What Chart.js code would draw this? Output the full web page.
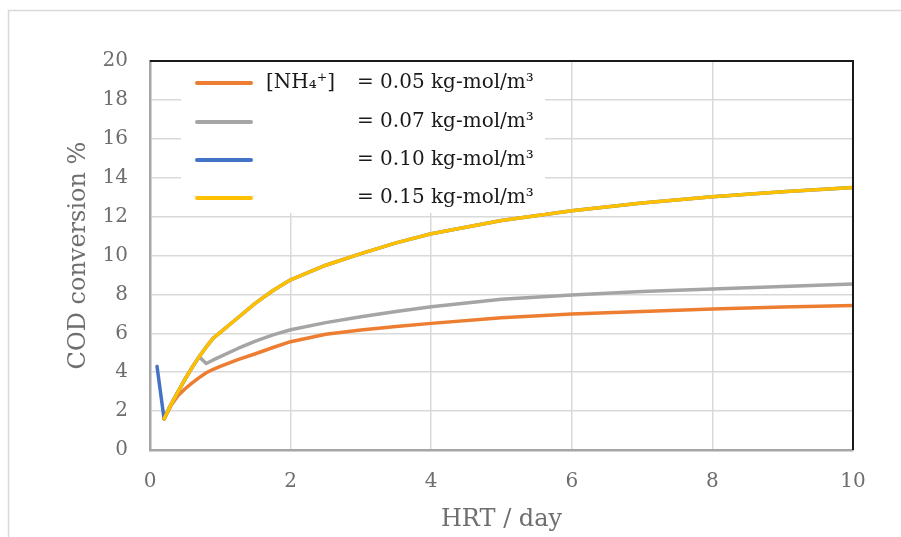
<!DOCTYPE html>
<html>
<head>
<meta charset="utf-8">
<title>COD conversion vs HRT</title>
<script src="https://cdn.jsdelivr.net/npm/chart.js@4.4.1/dist/chart.umd.min.js"></script>
<style>
  html, body { margin: 0; padding: 0; background: #fff; }
  #wrap { width: 901px; height: 537px; }
</style>
</head>
<body>
<div id="wrap"><canvas id="chart"></canvas></div>
<script>
/* ── Data ────────────────────────────────────── */
const hrt = [0.2, 0.3, 0.4, 0.5, 0.6, 0.7, 0.8, 0.9, 1.0, 1.25, 1.5, 1.75, 2, 2.5, 3, 3.5, 4, 5, 6, 7, 8, 9, 10];
const hrtBlue = [0.1, 0.2, 0.3, 0.4, 0.5, 0.6, 0.7, 0.8, 0.9, 1.0, 1.25, 1.5, 1.75, 2, 2.5, 3, 3.5, 4, 5, 6, 7, 8, 9, 10];

const cod005 = [1.6, 2.3, 2.8, 3.15, 3.45, 3.72, 3.97, 4.15, 4.3, 4.65, 4.95, 5.27, 5.57, 5.95, 6.17, 6.35, 6.51, 6.8, 6.99, 7.12, 7.25, 7.35, 7.43];
const cod007 = [1.6, 2.35, 3.0, 3.65, 4.25, 4.8, 4.45, 4.63, 4.8, 5.22, 5.6, 5.92, 6.18, 6.55, 6.85, 7.12, 7.37, 7.75, 7.97, 8.15, 8.28, 8.4, 8.53];
const cod010 = [4.3, 1.6, 2.35, 3.0, 3.65, 4.25, 4.8, 5.3, 5.75, 6.05, 6.8, 7.55, 8.2, 8.75, 9.5, 10.1, 10.65, 11.12, 11.8, 12.3, 12.7, 13.02, 13.28, 13.5];
const cod015 = [1.6, 2.35, 3.0, 3.65, 4.25, 4.8, 5.3, 5.75, 6.05, 6.8, 7.55, 8.2, 8.75, 9.5, 10.1, 10.65, 11.12, 11.8, 12.3, 12.7, 13.02, 13.28, 13.5];

const speciesLabel = '[NH\u2084\u207A]';
const concLabels = ['= 0.05 kg-mol/m\u00B3', '= 0.07 kg-mol/m\u00B3', '= 0.10 kg-mol/m\u00B3', '= 0.15 kg-mol/m\u00B3'];
const seriesColors = ['#ED7D31', '#A5A5A5', '#4472C4', '#FFC000'];

const xTicks = [0, 2, 4, 6, 8, 10];
const yTicks = [0, 2, 4, 6, 8, 10, 12, 14, 16, 18, 20];

/* ── Helpers ───────────────────────── */
const pts = (xs, ys) => xs.map((x, i) => ({ x, y: ys[i] }));
const serif = "'DejaVu Serif', serif";
const tickColor = '#6e6e6e';
const gridColor = '#d9d9d9';

function series(i, xs, ys, order) {
  return {
    label: concLabels[i],
    data: pts(xs, ys),
    borderColor: seriesColors[i],
    backgroundColor: seriesColors[i],
    borderWidth: 3.5,
    pointRadius: 0,
    tension: 0,
    borderJoinStyle: 'round',
    borderCapStyle: 'round',
    order
  };
}

/* ── Frame + legend plugin ───────────────────────── */
const framePlugin = {
  id: 'frame',
  beforeDraw(chart) {
    const { ctx, width, height } = chart;
    ctx.save();
    ctx.fillStyle = '#fff';
    ctx.fillRect(0, 0, width, height);
    ctx.strokeStyle = '#d9d9d9';
    ctx.lineWidth = 1.5;
    ctx.strokeRect(8.5, 10.5, 1000, 1000);
    ctx.restore();
  },
  afterDatasetsDraw(chart) {
    const { ctx, chartArea: a } = chart;
    ctx.save();
    // legend box
    ctx.fillStyle = '#fff';
    ctx.fillRect(181, a.top + 1, 364, 151);
    const rows = [83, 122, 160, 198];
    ctx.font = '20px ' + serif;
    ctx.textBaseline = 'middle';
    rows.forEach((y, i) => {
      ctx.strokeStyle = seriesColors[i];
      ctx.lineWidth = 4;
      ctx.lineCap = 'round';
      ctx.beginPath();
      ctx.moveTo(197, y);
      ctx.lineTo(251, y);
      ctx.stroke();
      ctx.fillStyle = '#1a1a1a';
      if (i === 0) ctx.fillText(speciesLabel, 266, y);
      ctx.fillText(concLabels[i], 357, y);
    });
    // top and right borders
    ctx.strokeStyle = '#1a1a1a';
    ctx.lineWidth = 2;
    ctx.lineCap = 'butt';
    ctx.beginPath();
    ctx.moveTo(a.left, a.top);
    ctx.lineTo(a.right, a.top);
    ctx.lineTo(a.right, a.bottom);
    ctx.stroke();
    ctx.restore();
  }
};

/* ── Chart ───────────────────────── */
new Chart(document.getElementById('chart'), {
  type: 'line',
  data: {
    datasets: [
      series(0, hrt, cod005, 4),
      series(1, hrt, cod007, 3),
      series(2, hrtBlue, cod010, 2),
      series(3, hrt, cod015, 1)
    ]
  },
  options: {
    responsive: true,
    maintainAspectRatio: false,
    animation: false,
    layout: { padding: { top: 61, right: 48, left: 0, bottom: 0 } },
    plugins: {
      legend: { display: false },
      tooltip: { enabled: false }
    },
    scales: {
      x: {
        type: 'linear',
        min: 0,
        max: 10,
        afterFit: s => { s.height = 87; },
        afterBuildTicks: s => { s.ticks = xTicks.map(v => ({ value: v })); },
        grid: { color: gridColor, lineWidth: 1.5, drawTicks: false },
        border: { color: '#a6a6a6', width: 2.5 },
        ticks: { color: tickColor, font: { family: serif, size: 20 }, padding: 20 },
        title: {
          display: true,
          text: 'HRT / day',
          color: tickColor,
          font: { family: serif, size: 24 },
          padding: { top: 0, bottom: 3 }
        }
      },
      y: {
        min: 0,
        max: 20,
        afterFit: s => { s.width = 150; },
        afterBuildTicks: s => { s.ticks = yTicks.map(v => ({ value: v })); },
        grid: { color: gridColor, lineWidth: 1.5, drawTicks: false },
        border: { color: '#a6a6a6', width: 2.5 },
        ticks: { color: tickColor, font: { family: serif, size: 20 }, padding: 22 },
        title: {
          display: true,
          text: 'COD conversion %',
          color: tickColor,
          font: { family: serif, size: 24 },
          padding: { top: 64, bottom: 0 }
        }
      }
    }
  },
  plugins: [framePlugin]
});
</script>
</body>
</html>
